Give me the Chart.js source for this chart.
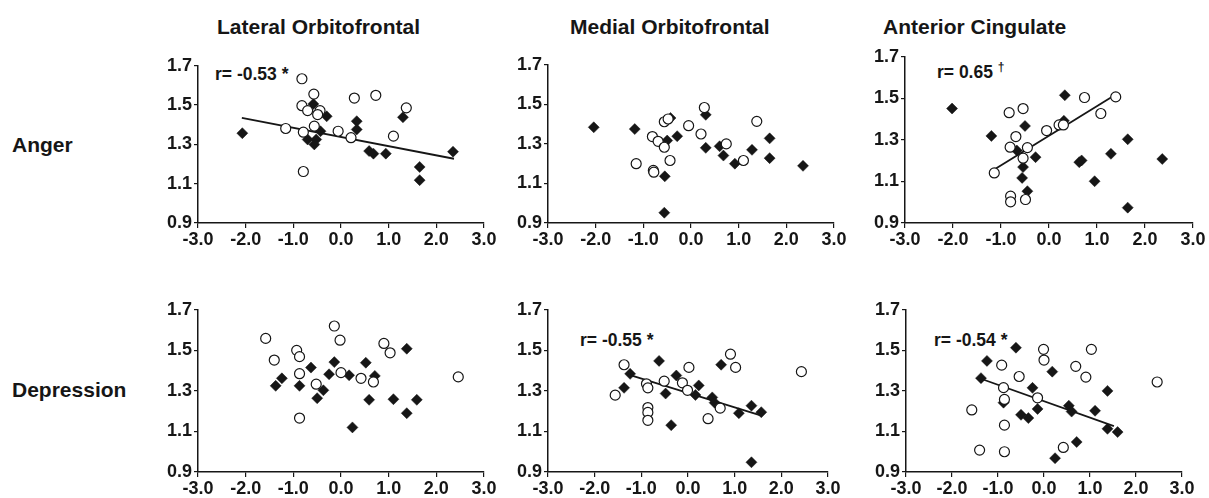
<!DOCTYPE html>
<html>
<head>
<meta charset="utf-8">
<script src="https://cdn.jsdelivr.net/npm/chart.js@4.4.0/dist/chart.umd.min.js"></script>
<style>
  body { margin: 0; background: #fff; width: 1209px; height: 498px; overflow: hidden; position: relative;
         font-family: "Liberation Sans", Arial, sans-serif; }
  .lbl { position: absolute; font-weight: bold; color: #161616; white-space: nowrap; line-height: 1; }
  canvas { position: absolute; }
</style>
</head>
<body>
<div class="lbl" style="left:217px; top:16px; font-size:21px;">Lateral Orbitofrontal</div>
<div class="lbl" style="left:570px; top:16px; font-size:21px;">Medial Orbitofrontal</div>
<div class="lbl" style="left:883px; top:16px; font-size:21px;">Anterior Cingulate</div>
<div class="lbl" style="left:12px; top:134px; font-size:21px;">Anger</div>
<div class="lbl" style="left:12px; top:379px; font-size:21px;">Depression</div>
<div class="lbl" style="left:215px; top:66px; font-size:17.5px;">r= -0.53 *</div>
<div class="lbl" style="left:937px; top:61px; font-size:17.5px;">r= 0.65 <sup style="font-size:12px;">†</sup></div>
<div class="lbl" style="left:580px; top:332px; font-size:17.5px;">r= -0.55 *</div>
<div class="lbl" style="left:934px; top:332px; font-size:17.5px;">r= -0.54 *</div>
<script>
// axis ticks
const xTicks = [-3, -2, -1, 0, 1, 2, 3];
const yTicks = [0.9, 1.1, 1.3, 1.5, 1.7];

// Anger - Lateral Orbitofrontal
const latAngerOpen = [[-0.82,1.634],[-0.57,1.556],[0.28,1.536],[0.73,1.55],[-0.82,1.497],[-0.70,1.472],[-0.44,1.472],[-0.49,1.452],[1.37,1.486],[-1.16,1.381],[-0.56,1.393],[-0.79,1.362],[-0.06,1.367],[0.21,1.334],[1.10,1.342],[-0.79,1.162]];
const latAngerFilled = [[-2.07,1.357],[-0.58,1.506],[-0.30,1.443],[0.33,1.418],[0.33,1.376],[1.30,1.438],[-0.43,1.367],[-0.70,1.325],[-0.52,1.325],[-0.56,1.30],[0.59,1.266],[0.68,1.253],[0.94,1.253],[1.65,1.185],[1.65,1.118],[2.35,1.263]];
const latAngerFit = [[-2.08,1.435],[2.37,1.227]];

// Anger - Medial Orbitofrontal
const medAngerOpen = [[-1.15,1.2],[-0.81,1.337],[-0.69,1.313],[-0.56,1.283],[-0.79,1.166],[-0.78,1.157],[-0.44,1.216],[-0.56,1.412],[-0.48,1.426],[-0.05,1.392],[0.28,1.484],[0.21,1.35],[0.74,1.30],[1.10,1.216],[1.38,1.414]];
const medAngerFilled = [[-2.04,1.384],[-1.18,1.375],[-0.50,1.317],[-0.29,1.339],[-0.43,1.431],[0.31,1.447],[0.31,1.28],[0.60,1.288],[0.68,1.241],[0.92,1.2],[1.28,1.27],[1.65,1.328],[1.65,1.228],[-0.55,1.136],[-0.56,0.952],[2.35,1.189]];

// Anger - Anterior Cingulate
const acAngerOpen = [[-1.14,1.141],[-0.81,1.265],[-0.83,1.431],[-0.69,1.316],[-0.54,1.451],[-0.45,1.263],[-0.54,1.212],[-0.80,1.029],[-0.80,1.002],[-0.49,1.013],[-0.05,1.345],[0.21,1.372],[0.30,1.372],[0.74,1.504],[1.08,1.427],[1.39,1.507]];
const acAngerFilled = [[-2.02,1.451],[-1.20,1.319],[-0.67,1.249],[-0.50,1.367],[-0.54,1.169],[-0.56,1.117],[-0.45,1.053],[-0.28,1.217],[0.33,1.515],[0.31,1.392],[0.63,1.193],[0.68,1.201],[0.95,1.101],[1.29,1.233],[1.64,1.303],[1.64,0.974],[2.36,1.208]];
const acAngerFit = [[-1.14,1.157],[1.40,1.52]];

// Depression - Lateral Orbitofrontal
const latDepOpen = [[-1.58,1.559],[-1.40,1.452],[-0.93,1.50],[-0.87,1.469],[-0.87,1.385],[-0.87,1.166],[-0.52,1.333],[-0.14,1.62],[-0.02,1.55],[0.0,1.39],[0.42,1.362],[0.68,1.344],[0.90,1.534],[1.03,1.488],[2.46,1.369]];
const latDepFilled = [[-1.37,1.325],[-1.24,1.362],[-0.87,1.325],[-0.63,1.415],[-0.50,1.264],[-0.37,1.303],[-0.25,1.382],[-0.14,1.442],[0.17,1.377],[0.24,1.12],[0.52,1.439],[0.59,1.256],[0.71,1.374],[1.10,1.259],[1.38,1.508],[1.38,1.19],[1.59,1.256]];

// Depression - Medial Orbitofrontal
const medDepOpen = [[-1.56,1.279],[-1.37,1.429],[-0.89,1.335],[-0.86,1.315],[-0.86,1.218],[-0.86,1.194],[-0.86,1.155],[-0.51,1.348],[-0.12,1.34],[-0.01,1.303],[0.02,1.416],[0.43,1.163],[0.69,1.215],[0.91,1.481],[1.02,1.416],[2.43,1.395]];
const medDepFilled = [[-1.37,1.315],[-1.24,1.384],[-0.62,1.448],[-0.48,1.287],[-0.36,1.131],[-0.25,1.376],[0.16,1.28],[0.23,1.327],[0.52,1.268],[0.57,1.242],[0.71,1.429],[1.09,1.19],[1.36,1.227],[1.57,1.195],[1.36,0.948]];
const medDepFit = [[-1.29,1.381],[1.59,1.177]];

// Depression - Anterior Cingulate
const acDepOpen = [[-1.57,1.206],[-1.40,1.008],[-0.92,1.427],[-0.88,1.316],[-0.86,1.258],[-0.86,1.131],[-0.86,1.0],[-0.54,1.371],[-0.14,1.266],[-0.01,1.505],[0.0,1.452],[0.42,1.021],[0.69,1.421],[0.91,1.368],[1.03,1.505],[2.46,1.344]];
const acDepFilled = [[-1.24,1.448],[-1.37,1.363],[-0.61,1.513],[-0.50,1.182],[-0.34,1.166],[-0.25,1.315],[-0.14,1.211],[-0.88,1.242],[0.18,1.395],[0.24,0.968],[0.54,1.227],[0.60,1.198],[0.71,1.048],[1.11,1.202],[1.38,1.30],[1.38,1.113],[1.60,1.097]];
const acDepFit = [[-1.37,1.36],[1.52,1.126]];

const toXY = arr => arr.map(p => ({ x: p[0], y: p[1] }));
const ink = '#161616';
const tickFont = { family: '"Liberation Sans", Arial, sans-serif', size: 18, weight: 'bold' };

function makePanel(pos, open, filled, fit) {
  const padL = 50, padR = 26, padT = 12, padB = 32;
  const w = pos.w + padL + padR, h = pos.h + padT + padB;
  const cv = document.createElement('canvas');
  cv.width = w; cv.height = h;
  cv.style.width = w + 'px'; cv.style.height = h + 'px';
  cv.style.left = (pos.x - padL) + 'px';
  cv.style.top = (pos.top - padT) + 'px';
  document.body.appendChild(cv);

  const datasets = [
    { data: toXY(open), pointStyle: 'circle', pointRadius: 5, pointBackgroundColor: '#fff',
      pointBorderColor: ink, pointBorderWidth: 1.2, showLine: false },
    { data: toXY(filled), pointStyle: 'rectRot', pointRadius: 5.5, pointBackgroundColor: ink,
      pointBorderColor: ink, pointBorderWidth: 0.5, showLine: false }
  ];
  if (fit) {
    datasets.push({ data: toXY(fit), showLine: true, borderColor: ink, borderWidth: 1.8,
      pointRadius: 0, fill: false });
  }

  new Chart(cv, {
    type: 'scatter',
    data: { datasets },
    options: {
      responsive: false,
      animation: false,
      devicePixelRatio: 1,
      layout: { padding: { left: 0, right: padR, top: padT, bottom: 0 } },
      plugins: { legend: { display: false }, tooltip: { enabled: false } },
      scales: {
        x: {
          type: 'linear', min: xTicks[0], max: xTicks[xTicks.length - 1],
          afterBuildTicks: s => { s.ticks = xTicks.map(v => ({ value: v })); },
          afterFit: s => { s.height = padB; },
          ticks: { callback: v => Number(v).toFixed(1), font: tickFont, color: ink, padding: 1,
                   maxRotation: 0, autoSkip: false },
          grid: { drawOnChartArea: false, tickLength: 5, color: ink, lineWidth: 1.2 },
          border: { color: ink, width: 1.5 }
        },
        y: {
          type: 'linear', min: yTicks[0], max: yTicks[yTicks.length - 1],
          afterBuildTicks: s => { s.ticks = yTicks.map(v => ({ value: v })); },
          afterFit: s => { s.width = padL; },
          ticks: { callback: v => Number(v).toFixed(1), font: tickFont, color: ink, padding: 2 },
          grid: { drawOnChartArea: false, tickLength: 4, color: ink, lineWidth: 1.2 },
          border: { color: ink, width: 1.5 }
        }
      }
    }
  });
}

makePanel({ x: 198, top: 65, w: 286, h: 158 }, latAngerOpen, latAngerFilled, latAngerFit);
makePanel({ x: 548, top: 64, w: 286, h: 159 }, medAngerOpen, medAngerFilled, null);
makePanel({ x: 905, top: 56, w: 288, h: 167 }, acAngerOpen, acAngerFilled, acAngerFit);
makePanel({ x: 198, top: 309, w: 286, h: 163 }, latDepOpen, latDepFilled, null);
makePanel({ x: 548, top: 309, w: 280, h: 163 }, medDepOpen, medDepFilled, medDepFit);
makePanel({ x: 906, top: 309, w: 276, h: 163 }, acDepOpen, acDepFilled, acDepFit);
</script>
</body>
</html>
